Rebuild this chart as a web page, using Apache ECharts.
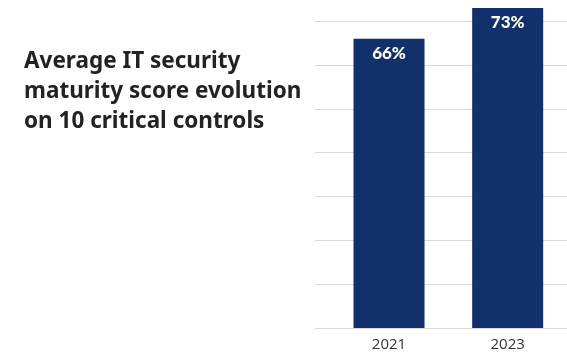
<!DOCTYPE html>
<html>
<head>
<meta charset="utf-8">
<script src="https://cdn.jsdelivr.net/npm/echarts@6/dist/echarts.min.js"></script>
<style>
  html, body { margin: 0; padding: 0; background: #ffffff; }
  #chart { width: 567px; height: 352px; }
</style>
</head>
<body>
<div id="chart"></div>
<script>
// Years compared and the average maturity score (percent) for each
const years = ['2021', '2023'];
const scores = [66, 73];
const titleLines = ['Average IT security', 'maturity score evolution', 'on 10 critical controls'];

const yMin = 0;
const yMax = 73;
const yStep = 10;

const chart = echarts.init(document.getElementById('chart'), null, { renderer: 'canvas' });

chart.setOption({
  animation: false,
  backgroundColor: '#ffffff',
  title: {
    text: titleLines.join('\n'),
    left: 24,
    top: 47,
    padding: 0,
    textStyle: {
      fontFamily: 'Noto Sans',
      fontWeight: 'bold',
      fontSize: 22.5,
      lineHeight: 30,
      color: '#222222'
    }
  },
  grid: [
    // background grid carrying the horizontal guide lines
    { left: 315, right: 0, top: 8, bottom: 24 },
    // grid holding the bars
    { left: 329.7, width: 240.4, top: 8, bottom: 24 }
  ],
  xAxis: [
    { gridIndex: 0, type: 'category', data: years, show: false },
    {
      gridIndex: 1,
      type: 'category',
      data: years,
      axisLine: { show: false },
      axisTick: { show: false },
      axisLabel: {
        margin: 9,
        fontFamily: 'Open Sans',
        fontSize: 15,
        color: '#333333'
      }
    }
  ],
  yAxis: [
    {
      gridIndex: 0,
      type: 'value',
      min: yMin,
      max: yMax,
      interval: yStep,
      axisLine: { show: false },
      axisTick: { show: false },
      axisLabel: { show: false },
      splitLine: {
        show: true,
        showMaxLine: false,
        lineStyle: { color: '#d9d9d9', width: 1 }
      }
    },
    {
      gridIndex: 1,
      type: 'value',
      min: yMin,
      max: yMax,
      interval: yStep,
      show: false,
      splitLine: { show: false }
    }
  ],
  series: [
    {
      type: 'bar',
      xAxisIndex: 1,
      yAxisIndex: 1,
      data: scores,
      barWidth: 71,
      itemStyle: { color: '#12306b' },
      label: {
        show: true,
        position: 'insideTop',
        distance: 6,
        formatter: '{c}%',
        fontFamily: 'Lato',
        fontWeight: 900,
        fontSize: 17,
        color: '#ffffff'
      }
    }
  ]
});
</script>
</body>
</html>
